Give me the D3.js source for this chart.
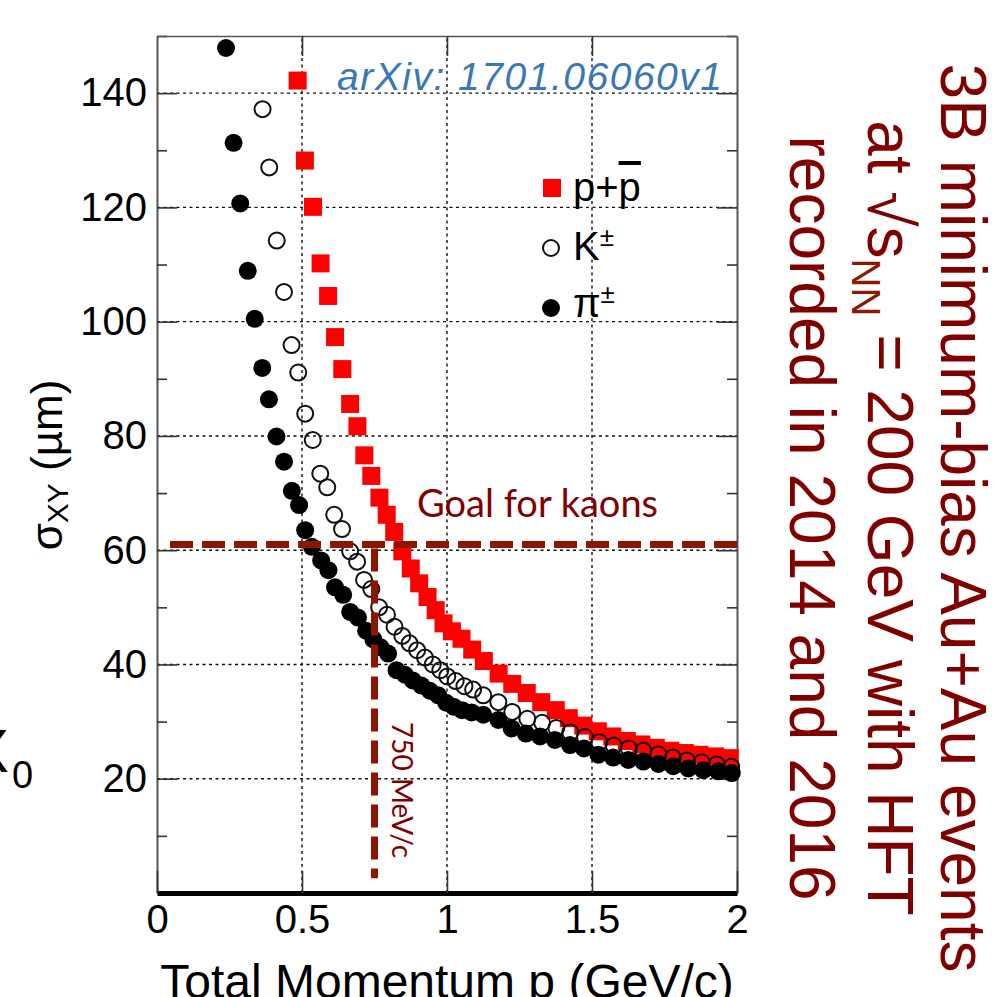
<!DOCTYPE html>
<html>
<head>
<meta charset="utf-8">
<script src="https://cdn.jsdelivr.net/npm/d3@7"></script>
<style>
  body { margin: 0; background: #fff; }
  svg { display: block; font-family: "Liberation Sans", Arial, Helvetica, sans-serif; }
  .grid line { stroke: #111; stroke-width: 1.4; stroke-dasharray: 3,3.5; }
  .axis path { stroke: #555; stroke-width: 2; }
  .axis line { stroke: #333; stroke-width: 1.6; }
  .axis text { font-size: 40px; fill: #000; font-family: "Liberation Sans", Arial, sans-serif; }
  .bottom path { stroke: #000; stroke-width: 5; }
  .note { font-family: Lato, "Open Sans", sans-serif; fill: #800000; }
</style>
</head>
<body>
<script>
// sigma_XY vs total momentum
var pionP = [0.238,0.264,0.287,0.313,0.337,0.363,0.386,0.412,0.438,0.465,0.490,0.511,0.534,0.566,0.591,0.614,0.642,0.666,0.693,0.721,
  0.746,0.771,0.797,0.826,0.855,0.882,0.912,0.941,0.970,0.997,1.023,1.052,1.085,1.125,1.177,1.223,1.272,1.321,1.372,1.424,
  1.472,1.522,1.573,1.625,1.677,1.729,1.780,1.832,1.884,1.935,1.982];
var pionSigma = [147.9,131.3,120.7,108.9,100.5,91.9,86.4,79.9,75.5,70.4,67.9,63.5,60.6,58.2,56.5,53.5,52.2,49.2,48.2,45.9,
  44.4,43.0,41.9,39.0,38.2,37.2,36.3,35.4,34.6,33.3,32.6,32.0,31.6,31.2,30.3,28.8,27.9,27.4,26.8,25.9,
  25.3,24.2,23.7,23.3,23.0,22.6,22.2,21.8,21.5,21.3,21.0];

var kaonP = [0.364,0.387,0.413,0.438,0.464,0.487,0.511,0.537,0.563,0.587,0.611,0.638,0.666,0.690,0.714,0.739,0.766,0.793,0.819,0.846,
  0.871,0.897,0.924,0.951,0.977,1.001,1.030,1.060,1.090,1.125,1.177,1.225,1.277,1.328,1.377,1.425,1.476,1.525,1.575,1.627,
  1.677,1.729,1.779,1.827,1.878,1.930,1.980];
var kaonSigma = [137.2,127.0,114.2,105.2,95.9,91.1,83.9,79.3,73.4,71.0,66.2,63.7,59.8,58.0,54.8,53.2,50.0,48.7,46.6,45.0,
  43.7,42.5,41.2,40.0,39.0,37.9,37.1,36.2,35.6,34.6,33.4,31.7,30.5,29.8,28.9,28.1,27.3,26.4,25.8,25.3,
  24.9,24.3,23.7,23.2,22.9,22.5,22.1];

var protonP = [0.485,0.510,0.538,0.564,0.590,0.614,0.639,0.666,0.691,0.715,0.739,0.767,0.792,0.818,0.846,0.875,0.904,0.933,0.961,0.988,
  1.017,1.050,1.087,1.127,1.178,1.225,1.275,1.325,1.375,1.420,1.470,1.520,1.570,1.620,1.670,1.720,1.770,1.820,1.870,1.925,1.975];
var protonSigma = [142.2,128.2,120.1,110.2,104.5,97.3,91.7,85.6,81.7,76.6,73.0,69.2,66.2,63.2,59.8,56.8,54.2,51.8,49.5,47.2,
  45.8,44.5,42.6,40.6,38.4,36.6,35.0,33.4,32.0,30.6,29.3,28.3,27.4,26.6,26.0,25.4,24.9,24.5,24.2,23.9,23.6];

var xTicks = [0, 0.5, 1, 1.5, 2];
var xTickLabels = ["0", "0.5", "1", "1.5", "2"];
var xGrid = [0.5, 1, 1.5];
var yTicks = [20, 40, 60, 80, 100, 120, 140];
var yMinor = [10, 30, 50, 70, 90, 110, 130, 150];

var goalSigma = 61, goalStartP = 0.045, goalP = 0.75, goalLowSigma = 2.6;

var legendLabels = ["p+", "K", "π"];
var titleLines = ["3B minimum-bias Au+Au events", "at √s|NN| = 200 GeV with HFT", "recorded in 2014 and 2016"];

var width = 1003, height = 997;
var x = d3.scaleLinear().domain([0, 2]).range([157, 737]);
var y = d3.scaleLinear().domain([0, 150]).range([893, 36]);

var svg = d3.select("body").append("svg")
  .attr("width", width)
  .attr("height", height);

// grid
var grid = svg.append("g").attr("class", "grid");
grid.selectAll("line.h").data(yTicks).enter().append("line")
  .attr("x1", x(0)).attr("x2", x(2))
  .attr("y1", function(d){ return y(d); }).attr("y2", function(d){ return y(d); });
grid.selectAll("line.v").data(xGrid).enter().append("line")
  .attr("y1", y(0)).attr("y2", y(150))
  .attr("x1", function(d){ return x(d); }).attr("x2", function(d){ return x(d); });

// axes
svg.append("g").attr("class", "axis").attr("transform", "translate(" + x(0) + ",0)")
  .call(d3.axisLeft(y).tickValues(yTicks).tickSizeInner(-20).tickSizeOuter(0).tickPadding(10));
svg.append("g").attr("class", "axis").attr("transform", "translate(" + x(0) + ",0)")
  .call(d3.axisLeft(y).tickValues(yMinor).tickSizeInner(-10).tickSizeOuter(0).tickFormat(""))
  .select(".domain").remove();
svg.append("g").attr("class", "axis").attr("transform", "translate(" + x(2) + ",0)")
  .call(d3.axisRight(y).tickValues(yTicks).tickSizeInner(-20).tickSizeOuter(0).tickFormat(""));
svg.append("g").attr("class", "axis").attr("transform", "translate(" + x(2) + ",0)")
  .call(d3.axisRight(y).tickValues(yMinor).tickSizeInner(-10).tickSizeOuter(0).tickFormat(""))
  .select(".domain").remove();
svg.append("g").attr("class", "axis").attr("transform", "translate(0," + y(150) + ")")
  .call(d3.axisTop(x).tickValues(xGrid).tickSizeInner(-20).tickSizeOuter(0).tickFormat(""))
  .select(".domain").style("stroke-width", 1.5);
svg.append("g").attr("class", "axis bottom").attr("transform", "translate(0," + y(0) + ")")
  .call(d3.axisBottom(x).tickValues(xTicks).tickSizeInner(-22).tickSizeOuter(0).tickPadding(12)
    .tickFormat(function(d, i){ return xTickLabels[i]; }));

// markers: protons, kaons, pions
var protons = protonP.map(function(p, i){ return [p, protonSigma[i]]; });
var kaons = kaonP.map(function(p, i){ return [p, kaonSigma[i]]; });
var pions = pionP.map(function(p, i){ return [p, pionSigma[i]]; });

svg.append("g").selectAll("rect").data(protons).enter().append("rect")
  .attr("x", function(d){ return x(d[0]) - 9; })
  .attr("y", function(d){ return y(d[1]) - 9; })
  .attr("width", 18).attr("height", 18)
  .attr("fill", "#ff0000");
svg.append("g").selectAll("circle").data(kaons).enter().append("circle")
  .attr("cx", function(d){ return x(d[0]); })
  .attr("cy", function(d){ return y(d[1]); })
  .attr("r", 8)
  .attr("fill", "none").attr("stroke", "#111").attr("stroke-width", 2);
svg.append("g").selectAll("circle").data(pions).enter().append("circle")
  .attr("cx", function(d){ return x(d[0]); })
  .attr("cy", function(d){ return y(d[1]); })
  .attr("r", 9)
  .attr("fill", "#000");

// goal lines
svg.append("line")
  .attr("x1", x(goalStartP)).attr("x2", x(2))
  .attr("y1", y(goalSigma)).attr("y2", y(goalSigma))
  .attr("stroke", "#8e1500").attr("stroke-width", 7).attr("stroke-dasharray", "23,9");
svg.append("line")
  .attr("x1", x(goalP)).attr("x2", x(goalP))
  .attr("y1", y(goalSigma) + 4).attr("y2", y(goalLowSigma))
  .attr("stroke", "#8e1500").attr("stroke-width", 7).attr("stroke-dasharray", "23,9");

svg.append("text").attr("class", "note")
  .attr("x", 417).attr("y", 517)
  .style("font-size", "38px")
  .text("Goal for kaons");
svg.append("text").attr("class", "note")
  .attr("transform", "translate(392,722) rotate(90)")
  .style("font-size", "28px")
  .text("750 MeV/c");

// arXiv tag
svg.append("text")
  .attr("x", 337).attr("y", 90)
  .attr("textLength", 385).attr("lengthAdjust", "spacing")
  .style("font-size", "39px").style("font-style", "italic").style("fill", "#3a78b5")
  .text("arXiv: 1701.06060v1");

// legend
var leg = svg.append("g");
leg.append("rect").attr("x", 543).attr("y", 179).attr("width", 18).attr("height", 18).attr("fill", "#ff0000");
leg.append("circle").attr("cx", 551).attr("cy", 248).attr("r", 8).attr("fill", "none").attr("stroke", "#111").attr("stroke-width", 2);
leg.append("circle").attr("cx", 551).attr("cy", 308).attr("r", 9).attr("fill", "#000");

var t0 = leg.append("text").attr("x", 573).attr("y", 201).style("font-size", "40px");
t0.append("tspan").text(legendLabels[0]);
t0.append("tspan").style("text-decoration", "overline").text("p");
var t1 = leg.append("text").attr("x", 573).attr("y", 260).style("font-size", "40px");
t1.append("tspan").text(legendLabels[1]);
t1.append("tspan").attr("dy", -14).style("font-size", "26px").text("±");
var t2 = leg.append("text").attr("x", 573).attr("y", 317).style("font-size", "40px");
t2.append("tspan").text(legendLabels[2]);
t2.append("tspan").attr("dy", -14).style("font-size", "26px").text("±");

// axis titles
var yl = svg.append("text")
  .attr("transform", "translate(62,465) rotate(-90)")
  .attr("text-anchor", "middle")
  .style("font-size", "44px");
yl.append("tspan").text("σ");
yl.append("tspan").attr("dy", 6).style("font-size", "30px").text("XY");
yl.append("tspan").attr("dy", -6).text(" (µm)");

svg.append("text")
  .attr("x", 447).attr("y", 998)
  .attr("text-anchor", "middle")
  .style("font-size", "48px")
  .text("Total Momentum p (GeV/c)");

// cut-off label on the left edge
svg.append("text").attr("x", 9).attr("y", 772).attr("text-anchor", "end").style("font-size", "62px").text("X");
svg.append("text").attr("x", 12).attr("y", 788).style("font-size", "38px").text("0");

// title on the right, rotated
var titleX = [941, 868, 790];
titleLines.forEach(function(line, i){
  var t = svg.append("text")
    .attr("transform", "translate(" + titleX[i] + ",518) rotate(90)")
    .attr("text-anchor", "middle")
    .style("font-size", "64px")
    .style("fill", "#800000");
  var parts = line.split("|");
  parts.forEach(function(part, j){
    if (j % 2 === 1) {
      t.append("tspan").attr("dy", 16).style("font-size", "40px").style("fill", "#8b1a00").text(part);
    } else {
      t.append("tspan").attr("dy", j > 0 ? -16 : 0).text(part);
    }
  });
});
</script>
</body>
</html>
